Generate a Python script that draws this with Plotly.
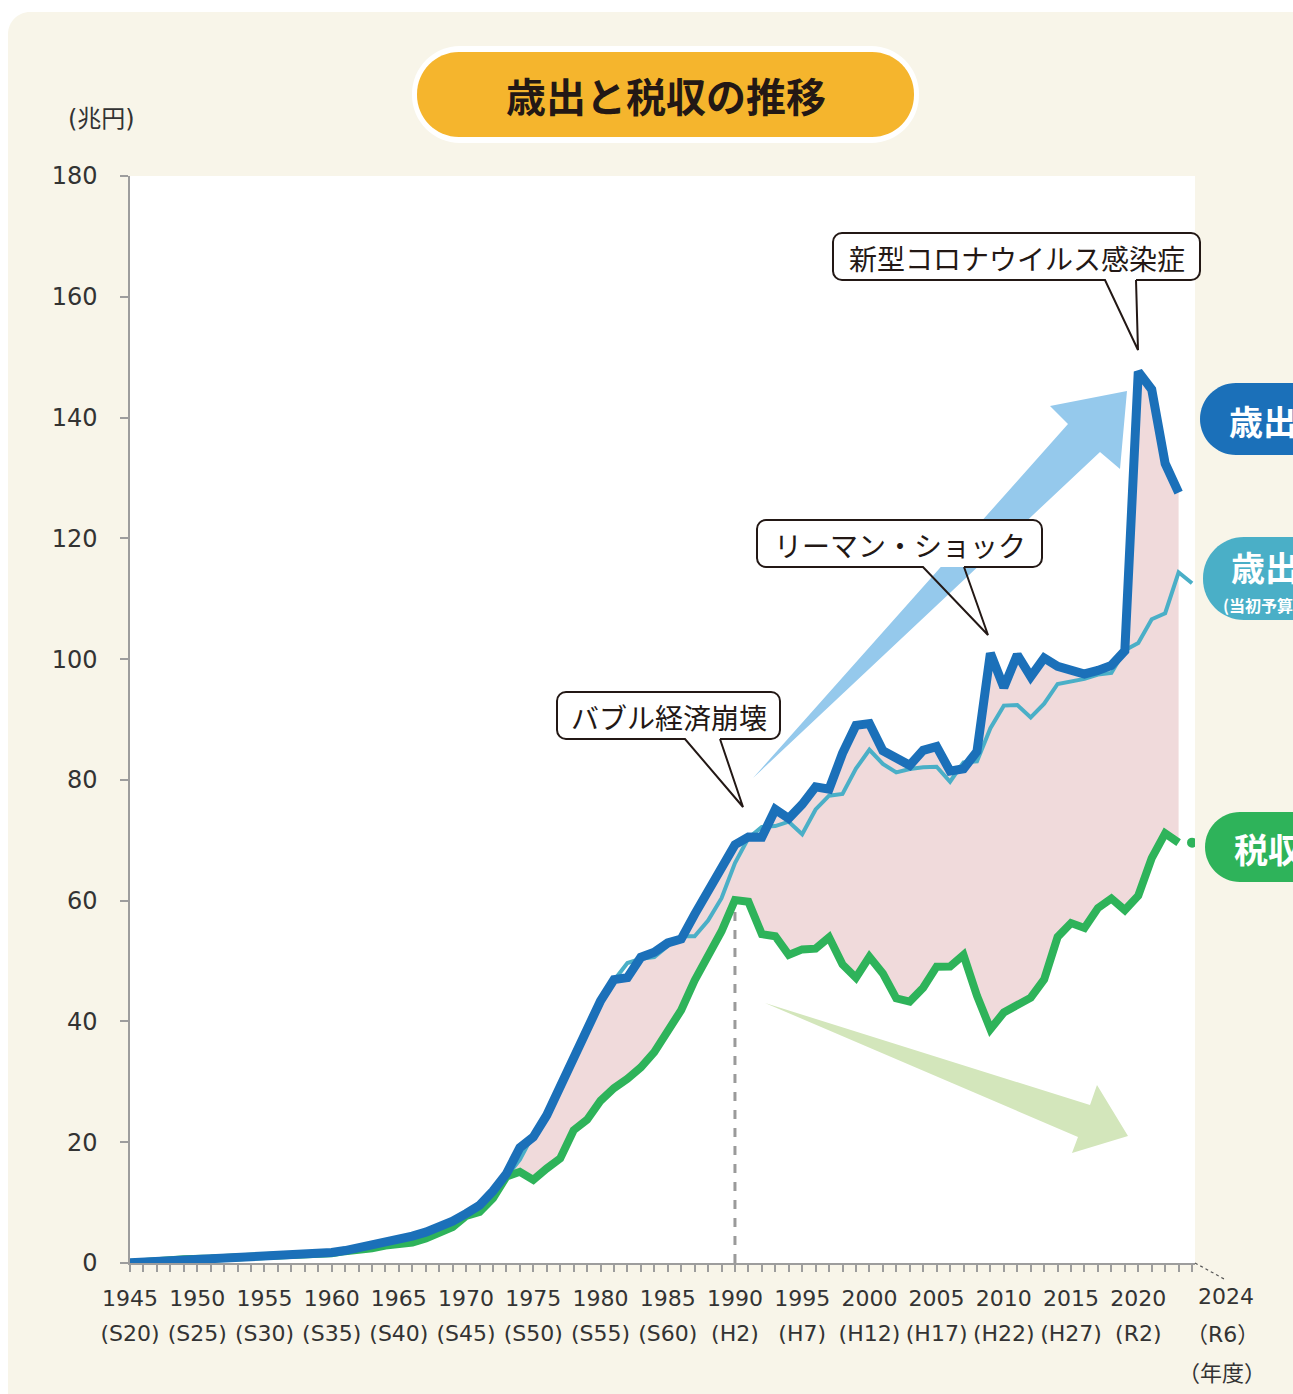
import plotly.graph_objects as go

# ---------------- data ----------------
years = list(range(1945, 2025))

# 歳出 (決算, 2023 は補正後) 1945-2023, 兆円
expenditure = [
    0.02, 0.12, 0.21, 0.46, 0.74, 0.63, 0.75, 0.87, 1.02, 1.00,
    1.02, 1.07, 1.19, 1.33, 1.51, 1.74, 2.06, 2.56, 3.04, 3.34,
    3.72, 4.46, 5.11, 5.82, 6.92, 8.19, 9.56, 11.93, 14.78, 19.10,
    20.86, 24.47, 29.06, 34.10, 38.79, 43.41, 46.92, 47.25, 50.64, 51.48,
    53.00, 53.64, 57.73, 61.47, 65.86, 69.27, 70.55, 70.50, 75.10, 73.61,
    75.94, 78.85, 78.47, 84.39, 89.04, 89.32, 84.81, 83.67, 82.42, 84.90,
    85.52, 81.45, 81.84, 84.70, 100.97, 95.31, 100.72, 97.09, 100.19, 98.81,
    98.23, 97.54, 98.12, 98.97, 101.37, 147.60, 144.65, 132.39, 127.58,
]

# 歳出 (当初予算) 1945-2024, 兆円
budget = [
    0.01, 0.06, 0.11, 0.39, 0.74, 0.66, 0.67, 0.85, 0.96, 1.00,
    0.99, 1.03, 1.14, 1.31, 1.42, 1.57, 1.95, 2.43, 2.85, 3.26,
    3.66, 4.31, 4.95, 5.82, 6.74, 7.95, 9.41, 11.47, 14.28, 17.10,
    21.29, 24.30, 28.51, 34.30, 38.60, 42.59, 46.79, 49.68, 50.38, 50.65,
    52.50, 54.09, 54.10, 56.70, 60.41, 66.24, 70.35, 72.22, 72.35, 73.08,
    70.99, 75.10, 77.39, 77.67, 81.86, 84.99, 82.65, 81.23, 81.79, 82.11,
    82.18, 79.69, 82.91, 83.06, 88.55, 92.30, 92.41, 90.33, 92.61, 95.88,
    96.34, 96.72, 97.45, 97.71, 101.46, 102.66, 106.61, 107.60, 114.38, 112.57,
]

# 税収 1945-2024, 兆円 (2023 補正後, 2024 予算)
tax = [
    0.01, 0.05, 0.19, 0.45, 0.64, 0.57, 0.73, 0.84, 0.93, 0.93,
    0.94, 1.06, 1.18, 1.12, 1.29, 1.62, 1.96, 2.14, 2.44, 2.88,
    3.05, 3.38, 4.07, 4.89, 5.95, 7.78, 8.44, 10.70, 14.31, 15.10,
    13.76, 15.65, 17.33, 21.99, 23.73, 26.87, 28.95, 30.51, 32.39, 34.91,
    38.15, 41.88, 46.79, 50.83, 54.93, 60.11, 59.82, 54.45, 54.12, 51.03,
    51.93, 52.06, 53.93, 49.43, 47.23, 50.71, 47.95, 43.83, 43.28, 45.59,
    49.07, 49.09, 51.02, 44.27, 38.73, 41.49, 42.83, 43.93, 46.95, 53.99,
    56.29, 55.47, 58.79, 60.36, 58.44, 60.82, 67.04, 71.14, 69.61, 69.61,
]

tick_years = list(range(1945, 2021, 5))
tick_western = [str(y) for y in tick_years]
tick_era = ["(S20)", "(S25)", "(S30)", "(S35)", "(S40)", "(S45)", "(S50)", "(S55)",
            "(S60)", "(H2)", "(H7)", "(H12)", "(H17)", "(H22)", "(H27)", "(R2)"]
last_year_label = "2024"
last_era_label = "（R6）"
x_unit = "（年度）"
y_unit = "(兆円)"
y_ticks = list(range(0, 181, 20))

title_text = "歳出と税収の推移"
label_exp = "歳出"
label_budget = "歳出"
label_budget_sub = "(当初予算)"
label_tax = "税収"
callout_bubble = "バブル経済崩壊"
callout_lehman = "リーマン・ショック"
callout_covid = "新型コロナウイルス感染症"

# ---------------- styling ----------------
FIG_W, FIG_H = 1293, 1394
L, T, R, B = 130, 176, 98, 131
W = FIG_W - L - R
H = FIG_H - T - B
XR = [1945, 2024.22]
YR = [0, 180]

C_BLUE = "#1b70b9"
C_TEAL = "#4aafc7"
C_GREEN = "#2eb35a"
C_FILL = "#f0dadb"
C_ARROW_B = "#95c9ec"
C_ARROW_G = "#d3e6bb"
C_CARD = "#f8f5e9"
C_ORANGE = "#f5b52d"
C_TEXT = "#231815"
C_AXIS = "#9d9d9d"
C_TICK = "#333333"

JP = "Noto Sans CJK JP"
NUM = "DejaVu Sans"


def P(px, py):
    """pixel -> paper coordinates"""
    return (px - L) / W, (T + H - py) / H


def path(cmds):
    out = []
    for c in cmds:
        op = c[0]
        pts = c[1:]
        s = op
        if pts:
            s += " " + " ".join("%.5f,%.5f" % P(*p) for p in pts)
        out.append(s)
    return " ".join(out)


K = 0.5523


def rrect_cmds(x0, y0, x1, y1, r):
    k = K * r
    return [
        ("M", (x0 + r, y0)), ("L", (x1 - r, y0)),
        ("C", (x1 - r + k, y0), (x1, y0 + r - k), (x1, y0 + r)),
        ("L", (x1, y1 - r)),
        ("C", (x1, y1 - r + k), (x1 - r + k, y1), (x1 - r, y1)),
        ("L", (x0 + r, y1)),
        ("C", (x0 + r - k, y1), (x0, y1 - r + k), (x0, y1 - r)),
        ("L", (x0, y0 + r)),
        ("C", (x0, y0 + r - k), (x0 + r - k, y0), (x0 + r, y0)),
        ("Z",),
    ]


def callout_outline(x0, y0, x1, y1, r, bx1, bx2, tip):
    k = K * r
    return [
        ("M", (bx2, y1)), ("L", (x1 - r, y1)),
        ("C", (x1 - r + k, y1), (x1, y1 - r + k), (x1, y1 - r)),
        ("L", (x1, y0 + r)),
        ("C", (x1, y0 + r - k), (x1 - r + k, y0), (x1 - r, y0)),
        ("L", (x0 + r, y0)),
        ("C", (x0 + r - k, y0), (x0, y0 + r - k), (x0, y0 + r)),
        ("L", (x0, y1 - r)),
        ("C", (x0, y1 - r + k), (x0 + r - k, y1), (x0 + r, y1)),
        ("L", (bx1, y1)), ("L", tip), ("L", (bx2, y1)),
    ]


shapes = []


def add_shape(cmds, fill, line_color=None, line_width=0, layer="above"):
    shapes.append(dict(
        type="path", xref="paper", yref="paper", path=path(cmds),
        fillcolor=fill, layer=layer,
        line=dict(color=line_color or "rgba(0,0,0,0)", width=line_width),
    ))


# card background and white plot area
add_shape(rrect_cmds(8, 12, 1330, 1430, 22), C_CARD, layer="below")
add_shape([("M", (L, T)), ("L", (L + W, T)), ("L", (L + W, T + H)), ("L", (L, T + H)), ("Z",)],
          "#ffffff", layer="below")

# decorative trend arrows
add_shape([("M", (753, 778)), ("L", (1068, 424)), ("L", (1050, 406)), ("L", (1127, 391)),
           ("L", (1120, 469)), ("L", (1100, 452)), ("Z",)], C_ARROW_B, layer="below")
add_shape([("M", (765, 1003)), ("L", (1090, 1105)), ("L", (1097, 1085)), ("L", (1128, 1136)),
           ("L", (1072, 1153)), ("L", (1078, 1137)), ("Z",)], C_ARROW_G, layer="below")

# title pill
add_shape(rrect_cmds(412, 46, 919, 143, 48), "#ffffff")
add_shape(rrect_cmds(417, 52, 914, 137, 42), C_ORANGE)

# right-side series labels
add_shape(rrect_cmds(1200, 383, 1340, 455, 36), C_BLUE)
add_shape(rrect_cmds(1203, 537, 1340, 620, 41), C_TEAL)
add_shape(rrect_cmds(1205, 812, 1340, 882, 35), C_GREEN)

# callouts
callouts = [
    (callout_bubble, (557, 692, 780, 739), 685, 720, (743, 807)),
    (callout_lehman, (757, 520, 1042, 567), 923, 964, (988, 635)),
    (callout_covid, (833, 233, 1200, 280), 1105, 1136, (1138, 350)),
]
for _, (x0, y0, x1, y1), bx1, bx2, tip in callouts:
    add_shape(rrect_cmds(x0, y0, x1, y1, 9), "#ffffff")
    add_shape(callout_outline(x0, y0, x1, y1, 9, bx1, bx2, tip), "rgba(0,0,0,0)",
              line_color=C_TEXT, line_width=2)

# leader line to the 2024 label
shapes.append(dict(type="line", xref="paper", yref="paper",
                   x0=P(1195, 1263)[0], y0=P(1195, 1263)[1],
                   x1=P(1226, 1280)[0], y1=P(1226, 1280)[1],
                   line=dict(color="#555555", width=1.2, dash="dot")))

annotations = []


def add_text(px, py, text, size, color=C_TEXT, family=JP, xanchor="center", bold=False):
    x, y = P(px, py)
    annotations.append(dict(
        xref="paper", yref="paper", x=x, y=y, text=text, showarrow=False,
        xanchor=xanchor, yanchor="middle",
        font=dict(size=size, color=color, family=family, weight="bold" if bold else "normal"),
    ))


add_text(666, 95, title_text, 40, bold=True)
add_text(101, 119, y_unit, 24, color=C_TICK, family=NUM + ", " + JP)
for text, (x0, y0, x1, y1), *_ in callouts:
    add_text((x0 + x1) / 2, (y0 + y1) / 2 + 1, text, 28)

add_text(1227, 420, label_exp, 34, color="#ffffff", xanchor="left", bold=True)
add_text(1229, 566, label_budget, 34, color="#ffffff", xanchor="left", bold=True)
add_text(1221, 605, label_budget_sub, 16, color="#ffffff", xanchor="left", bold=True)
add_text(1232, 848, label_tax, 34, color="#ffffff", xanchor="left", bold=True)

add_text(1226, 1296, last_year_label, 22, color=C_TICK, family=NUM)
add_text(1222, 1334, last_era_label, 22, color=C_TICK, family=NUM + ", " + JP)
add_text(1222, 1373, x_unit, 22, color=C_TICK, family=NUM + ", " + JP)

# ---------------- traces ----------------
n_exp = len(expenditure)
exp_years = years[:n_exp]
i1990 = years.index(1990)

fig = go.Figure()
fig.add_trace(go.Scatter(x=exp_years, y=tax[:n_exp], mode="lines", line=dict(width=0),
                         showlegend=False, hoverinfo="skip"))
fig.add_trace(go.Scatter(x=exp_years, y=expenditure, mode="lines", line=dict(width=0),
                         fill="tonexty", fillcolor=C_FILL, showlegend=False, hoverinfo="skip"))
fig.add_trace(go.Scatter(x=[years[i1990], years[i1990]], y=[YR[0], tax[i1990]], mode="lines",
                         line=dict(color="#9a9a9a", width=3, dash="dash"), showlegend=False))
fig.add_trace(go.Scatter(x=years, y=budget, mode="lines", name="歳出(当初予算)",
                         line=dict(color=C_TEAL, width=4), showlegend=False))
fig.add_trace(go.Scatter(x=years[:n_exp], y=tax[:n_exp], mode="lines", name="税収",
                         line=dict(color=C_GREEN, width=8), showlegend=False))
fig.add_trace(go.Scatter(x=years[n_exp:], y=tax[n_exp:], mode="markers", name="税収(予算)",
                         marker=dict(color=C_GREEN, size=10), showlegend=False))
fig.add_trace(go.Scatter(x=exp_years, y=expenditure, mode="lines", name="歳出",
                         line=dict(color=C_BLUE, width=9), showlegend=False))
# carrier for the era tick-label row
fig.add_trace(go.Scatter(x=[years[0]], y=[None], xaxis="x2", mode="lines",
                         showlegend=False, hoverinfo="skip"))

xtickfont = dict(size=22, color=C_TICK, family=NUM)
ytickfont = dict(size=24, color=C_TICK, family=NUM)
fig.update_layout(
    template="none",
    width=FIG_W, height=FIG_H, autosize=False,
    margin=dict(l=L, r=R, t=T, b=B, pad=0),
    paper_bgcolor="#ffffff", plot_bgcolor="#ffffff",
    showlegend=False,
    shapes=shapes, annotations=annotations,
    xaxis=dict(
        range=XR, showgrid=False, zeroline=False, automargin=False,
        showline=True, linecolor=C_AXIS, linewidth=1.5,
        tickmode="array", tickvals=tick_years, ticktext=tick_western,
        ticks="outside", ticklen=7, tickwidth=1.5, tickcolor=C_AXIS,
        tickfont=xtickfont, ticklabelstandoff=8,
        minor=dict(tickmode="array", tickvals=years, ticks="outside", ticklen=7,
                   tickwidth=1.5, tickcolor=C_AXIS, showgrid=False),
    ),
    xaxis2=dict(
        range=XR, overlaying="x", anchor="y", side="bottom",
        showgrid=False, zeroline=False, showline=False, automargin=False,
        tickmode="array", tickvals=tick_years, ticktext=tick_era,
        ticks="", tickfont=xtickfont, ticklabelstandoff=55,
    ),
    yaxis=dict(
        range=YR, showgrid=False, zeroline=False, automargin=False,
        showline=True, linecolor=C_AXIS, linewidth=1.5,
        tickmode="array", tickvals=y_ticks,
        ticks="outside", ticklen=8, tickwidth=1.5, tickcolor=C_AXIS,
        tickfont=ytickfont, ticklabelstandoff=18,
    ),
)

fig.write_html("out.html",
               config={"displayModeBar": False},
               post_script="document.body.style.margin='0px';document.body.style.padding='0px';")
